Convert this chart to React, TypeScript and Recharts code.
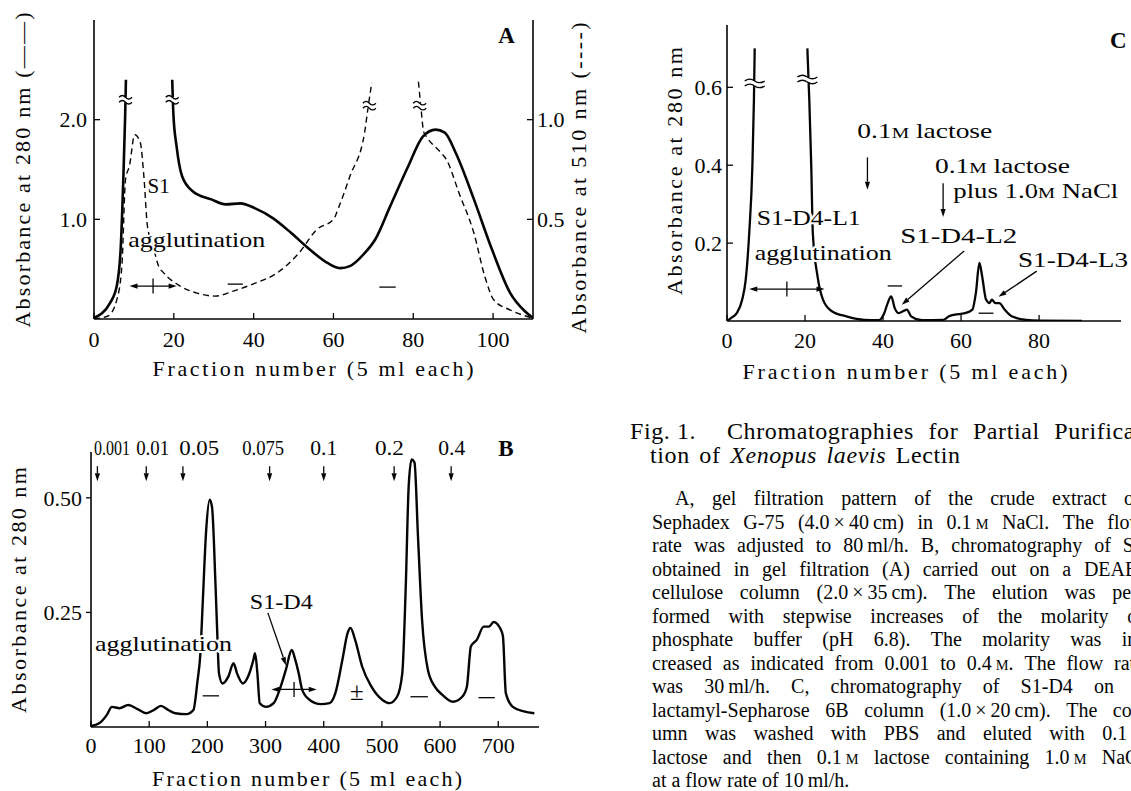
import React from 'react';
import { LineChart, Line, XAxis, YAxis, ReferenceDot, ReferenceLine } from 'recharts';

const INK = '#050505';
const SERIF = '"Liberation Serif", "Times New Roman", "DejaVu Serif", serif';

type Pt = [number, number | null];
type Seg = [number, number, number, number];
type Note = { x: number; y: number; text: string; bold?: boolean; anchor?: 'start' | 'middle' | 'end'; width?: number; size?: number };

// ---------- A: gel filtration ----------
const aTicksX = [0, 20, 40, 60, 80, 100];
const aTicksLeft = [1, 2];
const aTicksRight = [0.5, 1];
// absorbance at 280 nm (solid, left axis)
const a280: Pt[] = [
  [0, 0.01], [4, 0.16], [5.7, 0.33], [6.7, 0.72], [7.3, 1.35], [7.8, 2.03], [8, 2.4], [13, null],
  [19.6, 2.4], [19.9, 2.05], [20.7, 1.73], [22.1, 1.43], [24.8, 1.28], [29.4, 1.2], [33, 1.15],
  [36.7, 1.16], [40.4, 1.11], [44.9, 1.01], [49.5, 0.86], [54, 0.7], [58.6, 0.56], [61.8, 0.51],
  [64.1, 0.53], [67.8, 0.66], [70.5, 0.8], [74.2, 1.13], [78.7, 1.53], [82.4, 1.83], [85.6, 1.9],
  [87.9, 1.87], [90.6, 1.67], [95.2, 1.2], [99.7, 0.7], [104.3, 0.26], [107.9, 0.08], [110, 0.01],
];
// absorbance at 510 nm (dashed, right axis)
const a510: Pt[] = [
  [0, 0], [3.5, 0.015], [5.7, 0.095], [7, 0.27], [7.9, 0.7], [8.9, 0.77], [10.2, 0.925], [11.6, 0.885],
  [12.5, 0.715], [13.4, 0.465], [14.8, 0.365], [16.2, 0.265], [17.5, 0.23], [21.2, 0.17], [25.8, 0.13],
  [30.3, 0.115], [34.9, 0.14], [40.4, 0.18], [45.8, 0.23], [51.3, 0.33], [55.9, 0.45], [60, 0.5],
  [61.4, 0.565], [64.1, 0.715], [67.8, 0.935], [68.7, 1.065], [69.6, 1.185], [75, null],
  [81.3, 1.19], [81.9, 1.065], [82.6, 0.94], [83.3, 0.915], [86.9, 0.835], [88.3, 0.8], [91.5, 0.63],
  [95.2, 0.43], [97.9, 0.215], [100.2, 0.095], [104.3, 0.045], [109.8, 0.005],
];
const aBreaks280: [number, number][] = [[7.9, 2.2], [19.6, 2.2]];
const aBreaks510: [number, number][] = [[69, 1.07], [81.6, 1.07]];
const aNotes: Note[] = [
  { x: 13.4, y: 1.26, text: 'S1' },
  { x: 8.6, y: 0.72, text: 'agglutination', width: 137 },
  { x: 101.3, y: 2.77, text: 'A', bold: true },
];
const aMinus: Seg[] = [[33.5, 0.35, 37.3, 0.35], [71.5, 0.32, 75.6, 0.32]];
const aPlus: Seg = [8.9, 0.33, 20.7, 0.33];

// ---------- B: DEAE-cellulose ----------
const bTicksX = [0, 100, 200, 300, 400, 500, 600, 700];
const bTicksY = [0.25, 0.5];
const b280: Pt[] = [
  [0, 0.002], [14, 0.008], [27, 0.026], [36, 0.044], [49, 0.041], [64, 0.048], [80, 0.039], [95, 0.03],
  [108, 0.037], [120, 0.046], [133, 0.037], [145, 0.03], [164, 0.028], [176, 0.037], [183, 0.1],
  [188, 0.16], [192, 0.27], [198, 0.43], [204, 0.496], [208, 0.48], [214, 0.31], [217, 0.205],
  [220, 0.117], [226, 0.095], [236, 0.11], [245, 0.139], [251, 0.117], [261, 0.095], [270, 0.11],
  [279, 0.146], [282, 0.161], [286, 0.117], [290, 0.052], [301, 0.044], [314, 0.052], [326, 0.088],
  [335, 0.125], [345, 0.168], [351, 0.147], [357, 0.117], [363, 0.081], [376, 0.059], [395, 0.05],
  [410, 0.052], [420, 0.074], [432, 0.146], [441, 0.205], [446, 0.216], [454, 0.19], [466, 0.132],
  [482, 0.088], [501, 0.059], [513, 0.052], [526, 0.066], [535, 0.117], [541, 0.307], [546, 0.525],
  [551, 0.584], [556, 0.577], [562, 0.416], [569, 0.234], [579, 0.125], [591, 0.088], [604, 0.07],
  [622, 0.055], [638, 0.066], [646, 0.088], [653, 0.176], [663, 0.19], [675, 0.219], [684, 0.219],
  [692, 0.229], [703, 0.216], [708, 0.198], [713, 0.074], [725, 0.044], [744, 0.034], [762, 0.03],
];
const bStepLabels = ['0.001', '0.01', '0.05', '0.075', '0.1', '0.2', '0.4'];
const bStepArrowAt = [11, 95, 158, 307, 400, 521, 619];
const bStepLabelAt = [36, 106, 186, 296, 400, 513, 620];
const bStepLabelWidth = [36, 33, 40, 42, 27, 29, 27];
const bNotes: Note[] = [
  { x: 7, y: 0.165, text: 'agglutination', width: 137 },
  { x: 273, y: 0.257, text: 'S1-D4', width: 63 },
  { x: 457, y: 0.058, text: '±', anchor: 'middle', size: 25 },
  { x: 700, y: 0.592, text: 'B', bold: true },
];
const bMinus: Seg[] = [[192, 0.068, 220, 0.068], [549, 0.066, 579, 0.066], [666, 0.064, 694, 0.064]];
const bPlus: Seg = [310, 0.082, 388, 0.082];
const bPointer: Seg = [304, 0.249, 335, 0.135];

// ---------- C: lactamyl-Sepharose ----------
const cTicksX = [0, 20, 40, 60, 80];
const cTicksY = [0.2, 0.4, 0.6];
const c280: Pt[] = [
  [0, 0], [1.1, 0.008], [2.5, 0.02], [3.9, 0.055], [4.8, 0.106], [5.7, 0.226], [6.5, 0.397],
  [6.9, 0.567], [7.1, 0.7], [14, null], [20.6, 0.7], [21.1, 0.567], [21.6, 0.397], [22, 0.226],
  [23.2, 0.115], [24.6, 0.055], [26.9, 0.025], [30.6, 0.012], [35.2, 0.003], [38.9, 0.002],
  [40.3, 0.02], [41.2, 0.046], [42.1, 0.063], [43, 0.033], [44, 0.02], [45.3, 0.026], [46.1, 0.029],
  [47.2, 0.012], [50, 0.002], [55.5, 0.003], [56.9, 0.012], [58.2, 0.016], [61, 0.02], [62.9, 0.029],
  [63.8, 0.072], [64.7, 0.149], [65.4, 0.115], [66.4, 0.055], [67.3, 0.046], [67.9, 0.055],
  [68.8, 0.046], [69.8, 0.046], [71.2, 0.029], [73, 0.012], [76.7, 0.003], [80.4, 0.001], [91, 0],
];
const cBreaks: [number, number][] = [[7.1, 0.61], [20.6, 0.62]];
const cNotes: Note[] = [
  { x: 33.4, y: 0.47, text: '0.1{M} lactose', width: 135 },
  { x: 53.3, y: 0.38, text: '0.1{M} lactose', width: 135 },
  { x: 58, y: 0.315, text: 'plus 1.0{M} NaCl', width: 165 },
  { x: 7.6, y: 0.247, text: 'S1-D4-L1', width: 104 },
  { x: 7.1, y: 0.157, text: 'agglutination', width: 137 },
  { x: 44.4, y: 0.2, text: 'S1-D4-L2', width: 117 },
  { x: 74.6, y: 0.138, text: 'S1-D4-L3', width: 110 },
  { x: 98.2, y: 0.7, text: 'C', bold: true },
];
const cArrows: Seg[] = [[36, 0.42, 36, 0.337], [55.4, 0.354, 55.4, 0.267], [60.8, 0.18, 44.8, 0.042], [79.4, 0.128, 69.6, 0.062]];
const cMinus: Seg[] = [[41.2, 0.09, 44.9, 0.09], [64.5, 0.02, 68.3, 0.02]];
const cPlus: Seg = [5.7, 0.082, 25, 0.082];

// ---------- caption ----------
const captionTitle = ['Fig.\u00a01.', 'Chromatographies for Partial Purifica-'];
const captionBody = [
  'A, gel filtration pattern of the crude extract on',
  'Sephadex G-75 (4.0\u2009×\u200940\u2009cm) in 0.1\u2009{M} NaCl. The flow',
  'rate was adjusted to 80\u2009ml/h. B, chromatography of S1',
  'obtained in gel filtration (A) carried out on a DEAE-',
  'cellulose column (2.0\u2009×\u200935\u2009cm). The elution was per-',
  'formed with stepwise increases of the molarity of',
  'phosphate buffer (pH 6.8). The molarity was in-',
  'creased as indicated from 0.001 to 0.4\u2009{M}. The flow rate',
  'was 30\u2009ml/h. C, chromatography of S1-D4 on a',
  'lactamyl-Sepharose 6B column (1.0\u2009×\u200920\u2009cm). The col-',
  'umn was washed with PBS and eluted with 0.1\u2009{M}',
  'lactose and then 0.1\u2009{M} lactose containing 1.0\u2009{M} NaCl',
  'at a flow rate of 10\u2009ml/h.',
];

const rows = (pts: Pt[]) => pts.map(([f, v]) => ({ f, v }));

const axisLine = { stroke: INK, strokeWidth: 1.6 };
const tickLine = { stroke: INK, strokeWidth: 1.3 };
const tickFont = { fill: INK, fontSize: 22, fontFamily: SERIF };

const richSvg = (t: string) =>
  t.split(/(\{M\})/).map((s, i) => (s === '{M}' ? <tspan key={i} fontSize={15}>M</tspan> : s));

const richHtml = (t: string) =>
  t.split(/(\{M\})/).map((s, i) => (s === '{M}' ? <span key={i} style={{ fontSize: '0.72em' }}>M</span> : s));

const noteShape = (n: Note) => (p: any) => (
  <text
    x={p.cx}
    y={p.cy}
    textAnchor={n.anchor ?? 'start'}
    fontFamily={SERIF}
    fontSize={n.size ?? (n.bold ? 23 : 21)}
    fontWeight={n.bold ? 700 : 400}
    fill={INK}
    stroke="#fff"
    strokeWidth={4}
    strokeLinejoin="round"
    style={{ paintOrder: 'stroke' }}
    textLength={n.width}
    lengthAdjust={n.width ? 'spacingAndGlyphs' : undefined}
  >
    {richSvg(n.text)}
  </text>
);

const breakShape = (w: number) => (p: any) => {
  const { cx, cy } = p;
  const h = w / 2;
  const wave = (y: number) => `M${cx - h},${y} q${h / 2},-3.5 ${h},0 t${h},0`;
  return (
    <g>
      <rect x={cx - h + 2} y={cy - 2.5} width={w - 4} height={5} fill="#fff" />
      <path d={wave(cy - 2.5)} fill="none" stroke={INK} strokeWidth={1.3} />
      <path d={wave(cy + 2.5)} fill="none" stroke={INK} strokeWidth={1.3} />
    </g>
  );
};

const arrowShape = (p: any) => {
  const { x1, y1, x2, y2 } = p;
  const a = Math.atan2(y2 - y1, x2 - x1);
  const c = Math.cos(a);
  const s = Math.sin(a);
  const bx = x2 - 8 * c;
  const by = y2 - 8 * s;
  return (
    <g>
      <line x1={x1} y1={y1} x2={bx} y2={by} stroke={INK} strokeWidth={1.3} />
      <polygon points={`${x2},${y2} ${bx - 2.6 * s},${by + 2.6 * c} ${bx + 2.6 * s},${by - 2.6 * c}`} fill={INK} />
    </g>
  );
};

const plusShape = (p: any) => {
  const { x1, y1, x2, y2 } = p;
  const mx = (x1 + x2) / 2;
  return (
    <g>
      <line x1={x1 + 6} y1={y1} x2={x2 - 6} y2={y2} stroke={INK} strokeWidth={1.3} />
      <polygon points={`${x1},${y1} ${x1 + 8},${y1 - 2.6} ${x1 + 8},${y1 + 2.6}`} fill={INK} />
      <polygon points={`${x2},${y2} ${x2 - 8},${y2 - 2.6} ${x2 - 8},${y2 + 2.6}`} fill={INK} />
      <line x1={mx} y1={y1 - 7.5} x2={mx} y2={y1 + 7.5} stroke={INK} strokeWidth={1.3} />
    </g>
  );
};

const hTitle = (text: string, cx: number, y: number, len: number) => () => (
  <text x={cx} y={y} textAnchor="middle" fontFamily={SERIF} fontSize={22} fill={INK} textLength={len} lengthAdjust="spacing">
    {text}
  </text>
);

const vTitle = (text: string, cx: number, cy: number, len: number) => () => (
  <text
    x={cx}
    y={cy}
    transform={`rotate(-90 ${cx} ${cy})`}
    textAnchor="middle"
    dominantBaseline="central"
    fontFamily={SERIF}
    fontSize={22}
    fill={INK}
    textLength={len}
    lengthAdjust="spacing"
  >
    {text}
  </text>
);

const notes = (list: Note[], key: string, yAxisId?: string) =>
  list.map((n, i) => (
    <ReferenceDot key={`${key}${i}`} x={n.x} y={n.y} yAxisId={yAxisId} r={0} ifOverflow="visible" shape={noteShape(n)} />
  ));

const segs = (list: Seg[], key: string, shape?: any, yAxisId?: string) =>
  list.map(([x1, y1, x2, y2], i) => (
    <ReferenceLine
      key={`${key}${i}`}
      yAxisId={yAxisId}
      segment={[{ x: x1, y: y1 }, { x: x2, y: y2 }]}
      stroke={INK}
      strokeWidth={1.3}
      ifOverflow="visible"
      shape={shape}
    />
  ));

const breaks = (list: [number, number][], key: string, w: number, yAxisId?: string) =>
  list.map(([x, y], i) => (
    <ReferenceDot key={`${key}${i}`} x={x} y={y} yAxisId={yAxisId} r={0} ifOverflow="visible" shape={breakShape(w)} />
  ));

const ChartA = () => (
  <LineChart width={620} height={395} margin={{ top: 20, right: 0, bottom: 0, left: 0 }}>
    <XAxis
      dataKey="f" type="number" domain={[0, 110]} ticks={aTicksX} interval={0} allowDataOverflow height={76}
      tickSize={-6} tickMargin={18} axisLine={axisLine} tickLine={tickLine} tick={tickFont}
      label={{ content: hTitle('Fraction number (5 ml each)', 313, 376, 321) }}
    />
    <YAxis
      yAxisId="l" type="number" domain={[0, 3]} ticks={aTicksLeft} interval={0} allowDataOverflow width={94}
      tickSize={-6} tickMargin={13} axisLine={axisLine} tickLine={tickLine} tick={tickFont}
      tickFormatter={(v: number) => v.toFixed(1)}
      label={{ content: vTitle('Absorbance at 280 nm (——)', 22.5, 170, 315) }}
    />
    <YAxis
      yAxisId="r" orientation="right" type="number" domain={[0, 1.5]} ticks={aTicksRight} interval={0} allowDataOverflow width={87}
      tickSize={-6} tickMargin={10} axisLine={axisLine} tickLine={tickLine} tick={tickFont}
      tickFormatter={(v: number) => v.toFixed(1)}
      label={{ content: vTitle('Absorbance at 510 nm (----)', 578, 178, 311) }}
    />
    <Line yAxisId="l" data={rows(a280)} dataKey="v" type="monotone" stroke={INK} strokeWidth={2.6} dot={false} connectNulls={false} isAnimationActive={false} />
    <Line yAxisId="r" data={rows(a510)} dataKey="v" type="monotone" stroke={INK} strokeWidth={1.4} strokeDasharray="6 4" dot={false} connectNulls={false} isAnimationActive={false} />
    {breaks(aBreaks280, 'ab', 13, 'l')}
    {breaks(aBreaks510, 'ad', 13, 'r')}
    {segs(aMinus, 'am', undefined, 'l')}
    {segs([aPlus], 'ap', plusShape, 'l')}
    {notes(aNotes, 'an', 'l')}
  </LineChart>
);

const ChartB = () => (
  <LineChart width={620} height={371} margin={{ top: 32, right: 81, bottom: 0, left: 0 }}>
    <XAxis
      dataKey="f" type="number" domain={[0, 770]} ticks={bTicksX} interval={0} allowDataOverflow height={64}
      tickSize={-6} tickMargin={16} axisLine={axisLine} tickLine={tickLine} tick={tickFont}
      label={{ content: hTitle('Fraction number (5 ml each)', 307, 366, 310) }}
    />
    <YAxis
      type="number" domain={[0, 0.6]} ticks={bTicksY} interval={0} allowDataOverflow width={91}
      tickSize={5} tickMargin={4} axisLine={axisLine} tickLine={tickLine} tick={tickFont}
      tickFormatter={(v: number) => v.toFixed(2)}
      label={{ content: vTitle('Absorbance at 280 nm', 18.5, 170, 246) }}
    />
    <Line data={rows(b280)} dataKey="v" type="monotone" stroke={INK} strokeWidth={2.4} dot={false} isAnimationActive={false} />
    {bStepArrowAt.map((x, i) => (
      <ReferenceLine key={`bs${i}`} segment={[{ x, y: 0.569 }, { x, y: 0.536 }]} ifOverflow="visible" shape={arrowShape} />
    ))}
    {bStepLabels.map((t, i) => (
      <ReferenceDot
        key={`bl${i}`} x={bStepLabelAt[i]} y={0.594} r={0} ifOverflow="visible"
        shape={(p: any) => (
          <text x={p.cx} y={p.cy} textAnchor="middle" fontFamily={SERIF} fontSize={20} fill={INK}
            textLength={bStepLabelWidth[i]} lengthAdjust="spacingAndGlyphs">{t}</text>
        )}
      />
    ))}
    {segs(bMinus, 'bm')}
    {segs([bPlus], 'bp', plusShape)}
    {segs([bPointer], 'bq', arrowShape)}
    {notes(bNotes, 'bn')}
  </LineChart>
);

const ChartC = () => (
  <LineChart width={491} height={395} margin={{ top: 25, right: 10, bottom: 0, left: 0 }}>
    <XAxis
      dataKey="f" type="number" domain={[0, 101]} ticks={cTicksX} interval={0} allowDataOverflow height={74}
      tickSize={-6} tickMargin={17} axisLine={axisLine} tickLine={tickLine} tick={tickFont}
      label={{ content: hTitle('Fraction number (5 ml each)', 265, 379, 325) }}
    />
    <YAxis
      type="number" domain={[0, 0.76]} ticks={cTicksY} interval={0} allowDataOverflow width={87}
      tickSize={-6} tickMargin={11} axisLine={axisLine} tickLine={tickLine} tick={tickFont}
      tickFormatter={(v: number) => v.toFixed(1)}
      label={{ content: vTitle('Absorbance at 280 nm', 34.5, 171, 248) }}
    />
    <Line data={rows(c280)} dataKey="v" type="monotone" stroke={INK} strokeWidth={2.3} dot={false} connectNulls={false} isAnimationActive={false} />
    {breaks(cBreaks, 'cb', 20)}
    {segs(cArrows, 'ca', arrowShape)}
    {segs(cMinus, 'cm')}
    {segs([cPlus], 'cp', plusShape)}
    {notes(cNotes, 'cn')}
  </LineChart>
);

const BODY_LEFT = 652;
const BODY_RIGHT = 1144;
const BODY_SIZE = 20;
const TITLE_SIZE = 24;

const Caption = () => (
  <div style={{ fontFamily: SERIF, color: INK }}>
    <div style={{ position: 'absolute', left: 630, top: 439 - 0.84 * TITLE_SIZE, fontSize: TITLE_SIZE, lineHeight: 1, whiteSpace: 'nowrap', letterSpacing: 0.6 }}>
      {captionTitle[0]}
    </div>
    <div style={{ position: 'absolute', left: 727, top: 439 - 0.84 * TITLE_SIZE, fontSize: TITLE_SIZE, lineHeight: 1, whiteSpace: 'nowrap', wordSpacing: 8, letterSpacing: 0.6 }}>
      {captionTitle[1]}
    </div>
    <div style={{ position: 'absolute', left: 650, top: 463 - 0.84 * TITLE_SIZE, fontSize: TITLE_SIZE, lineHeight: 1, whiteSpace: 'nowrap', wordSpacing: 3, letterSpacing: 0.6 }}>
      tion of <i>Xenopus laevis</i> Lectin
    </div>
    {captionBody.map((line, i) => {
      const left = i === 0 ? 675 : BODY_LEFT;
      const last = i === captionBody.length - 1;
      return (
        <div
          key={i}
          style={{
            position: 'absolute',
            left,
            top: 505 + i * 23.5 - 0.84 * BODY_SIZE,
            width: BODY_RIGHT - left,
            fontSize: BODY_SIZE,
            lineHeight: 1,
            whiteSpace: 'nowrap',
            display: 'flex',
            justifyContent: last ? 'flex-start' : 'space-between',
            gap: last ? 5 : 0,
          }}
        >
          {line.split(' ').map((w, j) => (
            <span key={j}>{richHtml(w)}</span>
          ))}
        </div>
      );
    })}
  </div>
);

export default function App() {
  return (
    <div style={{ position: 'absolute', left: 0, top: 0, width: 1131, height: 791, overflow: 'hidden', background: '#fff', fontFamily: SERIF }}>
      <div style={{ position: 'absolute', left: 0, top: 0 }}>
        <ChartA />
      </div>
      <div style={{ position: 'absolute', left: 640, top: 0 }}>
        <ChartC />
      </div>
      <div style={{ position: 'absolute', left: 0, top: 420 }}>
        <ChartB />
      </div>
      <Caption />
    </div>
  );
}
